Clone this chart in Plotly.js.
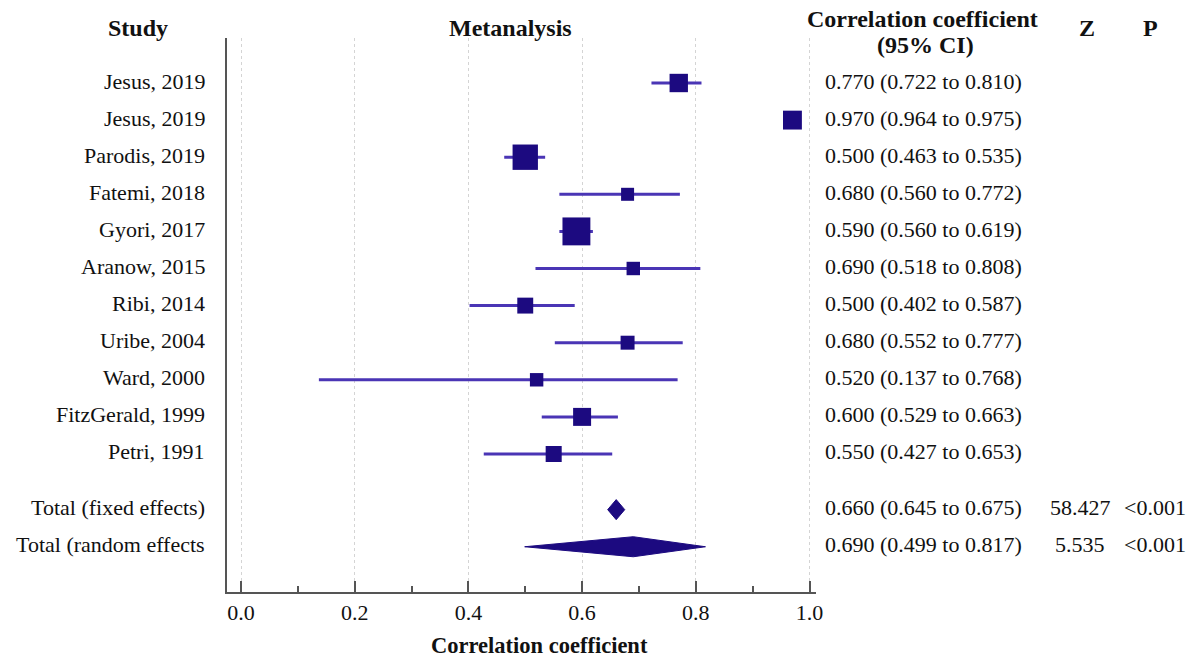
<!DOCTYPE html>
<html>
<head>
<meta charset="utf-8">
<script src="https://cdn.plot.ly/plotly-3.0.1.min.js"></script>
<style>
  html, body { margin: 0; padding: 0; background: #fff; }
  #chart { width: 1193px; height: 658px; }
</style>
</head>
<body>
<div id="chart"></div>
<script>
// ---- Data ----
const studies = ["Jesus, 2019", "Jesus, 2019", "Parodis, 2019", "Fatemi, 2018", "Gyori, 2017",
  "Aranow, 2015", "Ribi, 2014", "Uribe, 2004", "Ward, 2000", "FitzGerald, 1999", "Petri, 1991"];
const est = [0.770, 0.970, 0.500, 0.680, 0.590, 0.690, 0.500, 0.680, 0.520, 0.600, 0.550];
const lo  = [0.722, 0.964, 0.463, 0.560, 0.560, 0.518, 0.402, 0.552, 0.137, 0.529, 0.427];
const hi  = [0.810, 0.975, 0.535, 0.772, 0.619, 0.808, 0.587, 0.777, 0.768, 0.663, 0.653];
const weights = [9.2, 9.7, 17.5, 4.6, 21.2, 4.9, 6.9, 5.3, 4.9, 8.8, 7.0]; // relative weight (%)

const totalLabels = ["Total (fixed effects)", "Total (random effects"];
const totalEst = [0.660, 0.690];
const totalLo  = [0.645, 0.499];
const totalHi  = [0.675, 0.817];
const totalZ   = ["58.427", "5.535"];
const totalP   = ["<0.001", "<0.001"];

const xTickVals = [0, 0.2, 0.4, 0.6, 0.8, 1.0];
const xTickText = ["0.0", "0.2", "0.4", "0.6", "0.8", "1.0"];

// ---- Layout helpers ----
const W = 1193, H = 658;
const L = 227, R = 816, T = 38, B = 592;
const px = v => (v - L) / (R - L);          // pixel x -> paper x
const py = v => (B - v) / (B - T);          // pixel y -> paper y

const FONT = "Liberation Serif, Times New Roman, serif";
const MARK = "#1c0a80";
const LINE = "#4a35b5";

const studyRows = studies.map((_, i) => i);
const totalRows = totalLabels.map((_, j) => studies.length + 0.5 + j);

const fmt = v => v.toFixed(3);
const ciText = (e, l, h) => fmt(e) + " (" + fmt(l) + " to " + fmt(h) + ")";

const traces = [];

// CI lines
traces.push({
  type: "scatter", mode: "markers",
  x: est, y: studyRows,
  marker: { size: 1, opacity: 0, color: LINE },
  error_x: {
    type: "data", symmetric: false,
    array: hi.map((h, i) => h - est[i]),
    arrayminus: lo.map((l, i) => est[i] - l),
    width: 0, thickness: 3, color: LINE
  },
  hoverinfo: "skip", showlegend: false
});

// Study squares (drawn on top of CI lines)
traces.push({
  type: "scatter", mode: "markers",
  x: est, y: studyRows,
  marker: { symbol: "square", color: MARK, opacity: 1, size: weights.map(w => 6.06 * Math.sqrt(w)), line: { width: 0 } },
  hoverinfo: "skip", showlegend: false, cliponaxis: false
});

// Diamonds for totals
const halfH = 0.27;
totalEst.forEach((e, j) => {
  const yy = totalRows[j];
  traces.push({
    type: "scatter", mode: "lines", fill: "toself",
    x: [totalLo[j], e, totalHi[j], e, totalLo[j]],
    y: [yy, yy - halfH, yy, yy + halfH, yy],
    fillcolor: MARK, line: { color: MARK, width: 1 },
    hoverinfo: "skip", showlegend: false
  });
});

// ---- Annotations ----
const ann = [];
const txtFont = { family: FONT, size: 22, color: "#111" };
const hdrFont = { family: FONT, size: 24, color: "#111", weight: "bold" };
const YS = 2;

studies.forEach((s, i) => {
  ann.push({ xref: "paper", yref: "y", x: px(207), y: studyRows[i], yshift: YS, text: s, showarrow: false,
    xanchor: "right", yanchor: "middle", font: txtFont });
  ann.push({ xref: "paper", yref: "y", x: px(823), y: studyRows[i], yshift: YS, text: ciText(est[i], lo[i], hi[i]),
    showarrow: false, xanchor: "left", yanchor: "middle", font: txtFont });
});
totalLabels.forEach((s, j) => {
  const yy = totalRows[j];
  ann.push({ xref: "paper", yref: "y", x: px(207), y: yy, yshift: YS, text: s, showarrow: false,
    xanchor: "right", yanchor: "middle", font: txtFont });
  ann.push({ xref: "paper", yref: "y", x: px(823), y: yy, yshift: YS, text: ciText(totalEst[j], totalLo[j], totalHi[j]),
    showarrow: false, xanchor: "left", yanchor: "middle", font: txtFont });
  ann.push({ xref: "paper", yref: "y", x: px(1080), y: yy, yshift: YS, text: totalZ[j], showarrow: false,
    xanchor: "center", yanchor: "middle", font: txtFont });
  ann.push({ xref: "paper", yref: "y", x: px(1188), y: yy, yshift: YS, text: totalP[j], showarrow: false,
    xanchor: "right", yanchor: "middle", font: txtFont });
});

// Headers
const hdr = (text, x, y, size) => ann.push({ xref: "paper", yref: "paper", x: px(x), y: py(y), text: "<b>" + text + "</b>",
  showarrow: false, xanchor: "center", yanchor: "middle", font: Object.assign({}, hdrFont, size ? { size } : {}) });
hdr("Study", 138, 28);
hdr("Metanalysis", 510, 28);
hdr("Correlation coefficient", 922, 19);
hdr("(95% CI)", 925, 45);
hdr("Z", 1087, 28);
hdr("P", 1150, 28);
hdr("Correlation coefficient", 539, 645, 22.5);

const layout = {
  width: W, height: H,
  margin: { l: L, r: W - R, t: T, b: H - B, pad: 0 },
  paper_bgcolor: "#fff", plot_bgcolor: "#fff",
  font: { family: FONT, size: 22, color: "#111" },
  xaxis: {
    range: [(L - 241) / 568.5, (R - 241) / 568.5], autorange: false,
    tickvals: xTickVals, ticktext: xTickText,
    showgrid: true, gridcolor: "#d4d4d4", griddash: "dot", gridwidth: 1,
    ticks: "inside", ticklen: 11, tickwidth: 2, tickcolor: "#555",
    minor: { tickvals: [0.1, 0.3, 0.5, 0.7, 0.9], ticks: "inside", ticklen: 6, tickwidth: 2, tickcolor: "#555", showgrid: false },
    showline: true, linecolor: "#555", linewidth: 2, zeroline: false,
    tickfont: { family: FONT, size: 22, color: "#111" },
    ticklabelstandoff: 0
  },
  yaxis: {
    range: [13.72, -1.213], autorange: false,
    showgrid: false, zeroline: false, showticklabels: false, ticks: "",
    showline: true, linecolor: "#555", linewidth: 2
  },
  annotations: ann,
  showlegend: false
};

Plotly.newPlot("chart", traces, layout, { staticPlot: true, displayModeBar: false });
</script>
</body>
</html>
